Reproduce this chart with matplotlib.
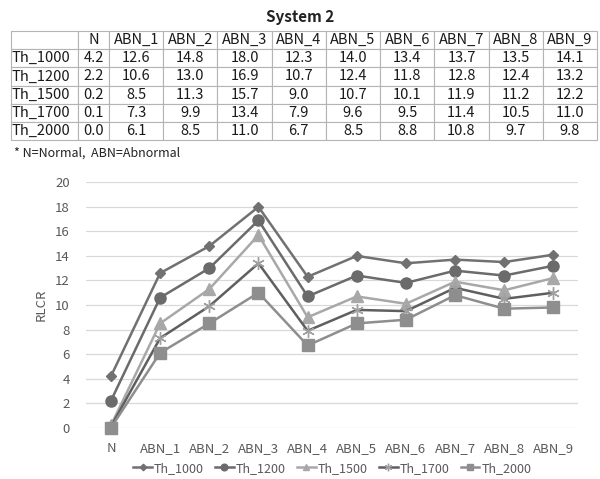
import matplotlib
matplotlib.use("Agg")
import matplotlib.pyplot as plt

plt.rcParams['font.family'] = ['Noto Sans CJK KR', 'DejaVu Sans']

categories = ["N", "ABN_1", "ABN_2", "ABN_3", "ABN_4", "ABN_5", "ABN_6", "ABN_7", "ABN_8", "ABN_9"]
series_names = ["Th_1000", "Th_1200", "Th_1500", "Th_1700", "Th_2000"]
th_1000 = [4.2, 12.6, 14.8, 18.0, 12.3, 14.0, 13.4, 13.7, 13.5, 14.1]
th_1200 = [2.2, 10.6, 13.0, 16.9, 10.7, 12.4, 11.8, 12.8, 12.4, 13.2]
th_1500 = [0.2, 8.5, 11.3, 15.7, 9.0, 10.7, 10.1, 11.9, 11.2, 12.2]
th_1700 = [0.1, 7.3, 9.9, 13.4, 7.9, 9.6, 9.5, 11.4, 10.5, 11.0]
th_2000 = [0.0, 6.1, 8.5, 11.0, 6.7, 8.5, 8.8, 10.8, 9.7, 9.8]
series = [th_1000, th_1200, th_1500, th_1700, th_2000]
y_ticks = [0, 2, 4, 6, 8, 10, 12, 14, 16, 18, 20]

W, H = 600, 479
fig = plt.figure(figsize=(W / 100, H / 100), dpi=100)

fig.text(300 / W, 1 - 17 / H, "System 2", ha="center", va="center",
         fontsize=11, fontweight="bold", color="#222222")

# --- table ---
tax = fig.add_axes([11 / W, 1 - 140 / H, 586 / W, 109 / H])
tax.axis("off")
cell_text = [[name] + ["%.1f" % v for v in vals] for name, vals in zip(series_names, series)]
header = [""] + categories
col_w = [67, 31] + [54.2] * 9
tot = sum(col_w)
tbl = tax.table(cellText=[header] + cell_text, colWidths=[c / tot for c in col_w],
                bbox=[0, 0, 1, 1], cellLoc="center")
tbl.auto_set_font_size(False)
for (r, c), cell in tbl.get_celld().items():
    cell.set_edgecolor("#b4b4b4")
    cell.set_linewidth(0.8)
    cell.get_text().set_fontsize(10.5)
    cell.get_text().set_color("#1a1a1a")
    if c == 0:
        cell.get_text().set_ha("left")
        cell.PAD = 0.01

fig.text(14 / W, 1 - 153 / H, "* N=Normal,  ABN=Abnormal", ha="left", va="center",
         fontsize=9, color="#222222")

# --- line chart ---
ax = fig.add_axes([86.4 / W, 1 - 427.7 / H, 491.6 / W, 245.4 / H])
x = list(range(len(categories)))
styles = [
    dict(color="#717171", marker="D", markersize=5.5),
    dict(color="#6b6b6b", marker="o", markersize=8),
    dict(color="#a8a8a8", marker="^", markersize=8),
    dict(color="#5f5f5f", marker=(6, 2, 0), markersize=9, markeredgecolor="#a0a0a0",
         markeredgewidth=1.0),
    dict(color="#8e8e8e", marker="s", markersize=8),
]
for name, vals, st in zip(series_names, series, styles):
    ax.plot(x, vals, label=name, linewidth=1.8, clip_on=False, zorder=3, **st)

ax.set_xlim(-0.5, len(categories) - 0.5)
ax.set_ylim(0, 20)
ax.set_yticks(y_ticks)
ax.set_xticks(x)
ax.set_xticklabels(categories)
ax.tick_params(length=0, labelsize=9.5, labelcolor="#595959")
ax.tick_params(axis="y", pad=12)
ax.tick_params(axis="x", pad=10)
ax.grid(axis="y", color="#d9d9d9", linewidth=0.9)
ax.set_axisbelow(True)
for s in ax.spines.values():
    s.set_visible(False)
ax.set_ylabel("RLCR", fontsize=9.5, color="#595959", labelpad=5)

ax.legend(loc="center", bbox_to_anchor=(0.5, -0.165), ncol=5, frameon=False, fontsize=9,
          labelcolor="#595959", handlelength=1.5, handletextpad=0.15, columnspacing=0.9,
          markerscale=0.6)

fig.savefig("out.png", dpi=100)
